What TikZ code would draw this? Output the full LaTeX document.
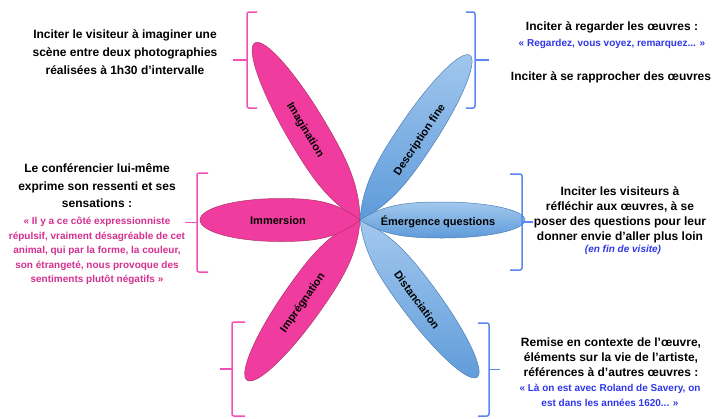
\documentclass[tikz,border=0pt]{standalone}
\usepackage{fontspec}
\setmainfont{Liberation Sans}
\definecolor{rose}{HTML}{F03C9E}
\definecolor{rosebord}{HTML}{B03466}
\definecolor{roseacc}{HTML}{F54EB4}
\definecolor{rosetexte}{HTML}{D3308F}
\definecolor{bleuclair}{HTML}{A3C8EE}
\definecolor{bleufonce}{HTML}{5E9BDA}
\definecolor{bleubord}{HTML}{4F7FB5}
\definecolor{bleuacc}{HTML}{5B85F2}
\definecolor{bleutexte}{HTML}{2E36E8}
\tikzset{
  accolade/.style={line width=1.5pt,rounded corners=2pt},
  petalerose/.style={fill=rose,draw=rosebord,line width=0.5pt},
  petalebleu/.style={top color=bleuclair,bottom color=bleufonce,draw=bleubord,line width=0.5pt},
  etiquette/.style={font=\fontsize{11}{13}\selectfont\bfseries},
  texte/.style={align=center,font=\fontsize{12}{15}\selectfont\bfseries},
  citation/.style={align=center,font=\fontsize{10}{14.5}\selectfont\bfseries},
}
% petale : style, angle, longueur, demi-largeur
\newcommand{\petale}[4]{%
  \draw[#1,shift={(360,220)},rotate=#2] (0,0) .. controls ({0.15*#3},{0.9*#4}) and ({0.3*#3},#4) .. ({0.5*#3},#4)
    arc[start angle=90,end angle=-90,x radius={0.5*#3},y radius=#4]
    .. controls ({0.3*#3},-#4) and ({0.15*#3},{-0.9*#4}) .. (0,0) -- cycle;}
% accolade : couleur, x trait, x bouts, x pointe, y haut, y bas
\newcommand{\accolade}[6]{%
  \draw[accolade,#1] (#3,#5) -- (#2,#5) -- (#2,#6) -- (#3,#6);
  \draw[accolade,#1] (#4,{(#5+#6)/2}) -- (#2,{(#5+#6)/2});}
\begin{document}
\begin{tikzpicture}[x=1pt,y=-1pt]
\useasboundingbox (0,0) rectangle (712,418);
% petales
\petale{petalerose}{120.7}{206}{20}
\petale{petalerose}{234.8}{196}{20}
\petale{petalerose}{180}{160}{21.5}
\petale{petalebleu}{56.3}{198}{19}
\petale{petalebleu}{-53.3}{196}{19}
\petale{petalebleu}{0}{165}{18}
\node[etiquette,rotate=-59] (imag) at (305,130) {Imagination};
\node[etiquette,rotate=55] (impr) at (303,303) {Imprégnation};
\node[etiquette] (imme) at (278,221) {Immersion};
\node[etiquette,rotate=56] (desc) at (420,140) {Description fine};
\node[etiquette] (emer) at (438,222) {Émergence questions};
\node[etiquette,rotate=-54] (dist) at (417,300) {Distanciation};
% accolades
\accolade{roseacc}{247}{257}{233}{12}{108}
\accolade{roseacc}{197}{208}{185}{173}{272}
\accolade{roseacc}{232}{245}{220}{322}{416}
\accolade{bleuacc}{475}{466}{489}{12}{108}
\accolade{bleuacc}{522}{510}{533}{174}{270}
\accolade{bleuacc}{489}{478}{500}{323}{416}
% textes
\node[texte,font=\fontsize{12}{18}\selectfont\bfseries] (t_imag) at (125,52) {Inciter le visiteur à imaginer une\\scène entre deux photographies\\réalisées à 1h30 d'intervalle};
\node[texte,font=\fontsize{12}{17.5}\selectfont\bfseries] (t_imme) at (97,186) {Le conférencier lui-même\\exprime son ressenti et ses\\sensations :};
\node[citation,text=rosetexte] (c_imme) at (97,251) {« Il y a ce côté expressionniste\\répulsif, vraiment désagréable de cet\\animal, qui par la forme, la couleur,\\son étrangeté, nous provoque des\\sentiments plutôt négatifs »};
\node[texte] (t_desc1) at (612,27) {Inciter à regarder les œuvres :};
\node[citation,text=bleutexte] (c_desc) at (612,44) {« Regardez, vous voyez, remarquez... »};
\node[texte] (t_desc2) at (611,77) {Inciter à se rapprocher des œuvres};
\node[texte] (t_emer) at (620,214.5) {Inciter les visiteurs à\\réfléchir aux œuvres, à se\\poser des questions pour leur\\donner envie d'aller plus loin};
\node[citation,text=bleutexte,font=\fontsize{10}{12}\selectfont\bfseries\itshape] (c_emer) at (623,250) {(en fin de visite)};
\node[texte] (t_dist) at (611,357) {Remise en contexte de l'œuvre,\\éléments sur la vie de l'artiste,\\références à d'autres œuvres :};
\node[citation,text=bleutexte,font=\fontsize{10}{15}\selectfont\bfseries] (c_dist) at (610,395.5) {« Là on est avec Roland de Savery, on\\est dans les années 1620... »};
\end{tikzpicture}
\end{document}
